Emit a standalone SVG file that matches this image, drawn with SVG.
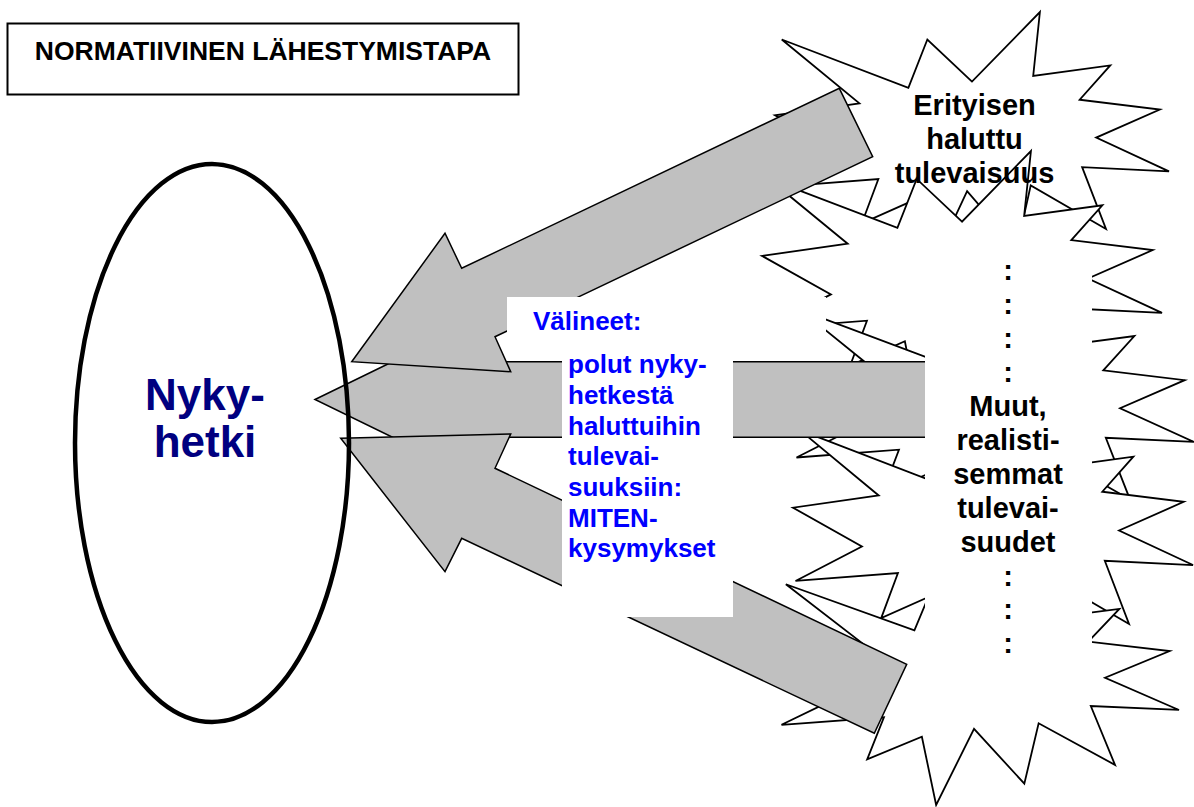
<svg xmlns="http://www.w3.org/2000/svg" width="1194" height="807" viewBox="0 0 1194 807">
  <style>
    .seal { fill: #ffffff; stroke: #000000; stroke-width: 1.8; }
    .arrow { fill: #C0C0C0; stroke: #000000; stroke-width: 1.5; stroke-linejoin: miter; }
    .cover { fill: #ffffff; stroke: none; }
    .txt { font-family: "Liberation Sans", Arial, sans-serif; font-weight: bold; }
    .black { fill: #000000; }
    .blue { fill: #0000FF; font-size: 26px; }
    .star-label { font-size: 29px; text-anchor: middle; }
  </style>
  <defs>
    <!-- explosion outline in a 21600 x 21600 unit box -->
    <polygon id="seal" vector-effect="non-scaling-stroke"
      points="10800,5800 8352,2295 7312,6320 370,2295 4627,7617 0,8615 3722,11775 135,14587 5667,13937 4762,17617 7715,15627 8485,21600 10532,14935 13247,19737 14020,14457 18145,18095 16837,12942 21600,13290 17607,10475 21097,8137 16702,7315 18380,4457 14155,5325 14522,0"/>
  </defs>

  <rect width="1194" height="807" fill="#ffffff"/>

  <!-- title -->
  <g id="title">
    <rect x="7.5" y="23.5" width="511" height="71" fill="#ffffff" stroke="#000000" stroke-width="2"/>
    <text class="txt black" x="263" y="60" font-size="26.5" text-anchor="middle">NORMATIIVINEN LÄHESTYMISTAPA</text>
  </g>

  <!-- stacked futures, top to bottom -->
  <g id="futures">
    <use href="#seal" class="seal" transform="translate(775,12) scale(0.018241,0.011991)"/>
    <use href="#seal" class="seal" transform="translate(762,151) scale(0.018519,0.012176)"/>
    <use href="#seal" class="seal" transform="translate(794,282.6) scale(0.018519,0.011991)"/>
    <use href="#seal" class="seal" transform="translate(793,402) scale(0.018519,0.012269)"/>
    <use href="#seal" class="seal" transform="translate(779,558) scale(0.018519,0.011435)"/>
  </g>

  <!-- block arrows -->
  <g id="connectors">
    <polygon class="arrow" points="315,399.5 473,322.5 473,361.7 960,361.7 960,437.3 473,437.3 473,476.5"/>
    <polygon class="arrow" points="351.7,361.7 445,233.3 461.7,268.3 839.3,88.3 872.7,156.7 495,336.7 510.7,371.7"/>
    <polygon class="arrow" points="340.7,438.3 510.7,434 495,468.3 906.7,664.3 874.3,733.3 461.7,538.3 445,571.7"/>
  </g>

  <!-- means: paths from now to desired futures -->
  <g id="means">
    <rect class="cover" x="507" y="297" width="319" height="63"/>
    <rect class="cover" x="562" y="360" width="171" height="257"/>
    <text class="txt blue" x="533" y="330">Välineet:</text>
    <text class="txt blue" x="568" y="373">polut nyky-</text>
    <text class="txt blue" x="568" y="404">hetkestä</text>
    <text class="txt blue" x="568" y="434.5">haluttuihin</text>
    <text class="txt blue" x="568" y="465">tulevai-</text>
    <text class="txt blue" x="568" y="496">suuksiin:</text>
    <text class="txt blue" x="568" y="526.5">MITEN-</text>
    <text class="txt blue" x="568" y="557">kysymykset</text>
  </g>

  <!-- especially desired future -->
  <g id="desired">
    <text class="txt black star-label" x="974.5" y="115">Erityisen</text>
    <text class="txt black star-label" x="974.5" y="148.5">haluttu</text>
    <text class="txt black star-label" x="974.5" y="182.5">tulevaisuus</text>
  </g>

  <!-- other, more realistic futures -->
  <g id="others">
    <rect class="cover" x="925" y="245" width="167" height="420"/>
    <text class="txt black star-label" x="1008" y="280">:</text>
    <text class="txt black star-label" x="1008" y="314">:</text>
    <text class="txt black star-label" x="1008" y="348">:</text>
    <text class="txt black star-label" x="1008" y="382">:</text>
    <text class="txt black star-label" x="1008" y="416">Muut,</text>
    <text class="txt black star-label" x="1008" y="450">realisti-</text>
    <text class="txt black star-label" x="1008" y="484">semmat</text>
    <text class="txt black star-label" x="1008" y="518">tulevai-</text>
    <text class="txt black star-label" x="1008" y="552">suudet</text>
    <text class="txt black star-label" x="1008" y="586">:</text>
    <text class="txt black star-label" x="1008" y="619">:</text>
    <text class="txt black star-label" x="1008" y="653">:</text>
  </g>

  <!-- the present -->
  <g id="present">
    <ellipse cx="212" cy="443" rx="137" ry="279" fill="none" stroke="#000000" stroke-width="4.5"/>
    <text class="txt" x="205" y="410" font-size="44" fill="#000080" text-anchor="middle">Nyky-</text>
    <text class="txt" x="205" y="457" font-size="44" fill="#000080" text-anchor="middle">hetki</text>
  </g>
</svg>
